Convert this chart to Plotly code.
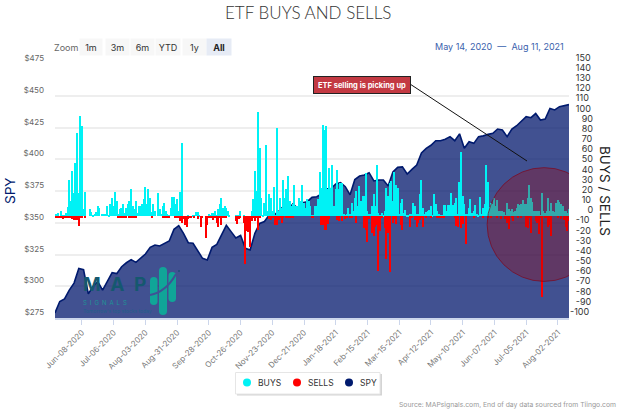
import pandas as pd
import plotly.graph_objects as go

DATES = [d.strftime("%b-%d-%Y") for d in pd.bdate_range("2020-05-14", "2021-08-11")]

TICK_LABELS = ["Jun-08-2020", "Jul-06-2020", "Aug-03-2020", "Aug-31-2020", "Sep-28-2020",
               "Oct-26-2020", "Nov-23-2020", "Dec-21-2020", "Jan-18-2021", "Feb-15-2021",
               "Mar-15-2021", "Apr-12-2021", "May-10-2021", "Jun-07-2021", "Jul-05-2021",
               "Aug-02-2021"]

BUYS = [
    1, 2, 3, 0, 5, 1, 1, 3, 9, 36, 15, 45, 23, 53, 82, 23, 99, 89, 7, 24,
    0, 0, 7, 4, 1, 2, 4, 10, 8, 0, 2, 2, 2, 10, 1, 12, 18, 10, 24, 15,
    2, 7, 8, 12, 3, 8, 12, 15, 27, 10, 7, 15, 3, 10, 10, 12, 17, 29, 12, 27,
    18, 4, 12, 5, 0, 23, 7, 2, 10, 13, 5, 2, 1, 8, 19, 19, 12, 17, 5, 24,
    72, 0, 0, 0, 1, 0, 0, 1, 1, 4, 4, 1, 0, 0, 0, 0, 0, 2, 1, 3,
    3, 5, 1, 7, 12, 18, 8, 10, 8, 5, 1, 0, 0, 0, 1, 1, 1, 5, 0, 1,
    0, 0, 0, 0, 5, 17, 45, 25, 103, 67, 18, 1, 13, 70, 5, 22, 18, 5, 29, 1,
    87, 5, 18, 8, 36, 18, 27, 40, 15, 10, 12, 31, 10, 10, 18, 15, 31, 13, 8, 17,
    15, 10, 1, 1, 10, 10, 17, 44, 28, 90, 85, 89, 27, 48, 28, 51, 10, 27, 46, 27,
    33, 33, 2, 1, 2, 8, 2, 13, 5, 18, 25, 10, 30, 15, 20, 20, 43, 5, 2, 2,
    10, 22, 10, 51, 3, 1, 3, 1, 5, 28, 20, 33, 35, 15, 44, 31, 28, 2, 13, 17,
    3, 6, 1, 1, 2, 2, 13, 10, 2, 2, 22, 36, 8, 2, 4, 5, 6, 10, 1, 22,
    12, 5, 2, 1, 1, 11, 11, 5, 11, 11, 23, 11, 13, 18, 2, 34, 63, 20, 12, 2,
    2, 8, 17, 3, 5, 11, 2, 1, 19, 2, 8, 12, 51, 34, 9, 13, 12, 18, 10, 16,
    5, 5, 5, 4, 1, 13, 7, 5, 7, 4, 5, 8, 12, 11, 12, 16, 12, 12, 18, 31,
    18, 14, 5, 5, 5, 5, 1, 23, 5, 3, 5, 18, 5, 13, 5, 4, 13, 16, 14, 12, 10, 5, 5, 3, 7,
]

SELLS = [
    -1, -2, -2, -2, -2, -3, -2, -2, -2, -2, -2, -3, -4, -4, -4, -9, -2, -1, 0, -1,
    0, 0, 0, 0, 0, 0, 0, 0, 0, 0, 0, 0, 0, 0, 0, 0, 0, 0, 0, 0,
    -1, -1, -1, -2, -1, -1, 0, -1, -1, -1, -1, -1, 0, 0, 0, 0, 0, 0, 0, 0,
    0, -1, 0, 0, 0, 0, 0, 0, -1, -2, -2, -1, -1, 0, 0, 0, -2, -2, -2, -5,
    -6, -3, -8, -10, -3, -2, -1, 0, -1, 0, -3, 0, -10, -1, 0, -21, -8, -1, -1, -1,
    -4, -1, -6, -10, -1, -8, -1, -1, -1, 0, 0, 0, 0, 0, -5, -7, -3, -1, 0, -6,
    -47, -14, -15, -30, -5, -2, -5, -2, -13, -1, 0, 0, 0, 0, 0, -3, -4, -1, -1, -8,
    -8, -4, -1, -6, -1, 0, -1, -1, -1, -1, -1, 0, 0, 0, 0, 0, 0, 0, 0, 0,
    0, 0, -1, -1, 0, 0, 0, 0, -8, -8, -13, -13, -7, -3, 0, 0, 0, 0, -4, -5,
    0, -5, 0, -3, -1, 0, -1, -1, 0, 0, -6, 0, 0, 0, 0, -11, -13, -25, -3, 0,
    -16, -19, -10, -8, -54, -14, -1, 0, -11, -42, -16, -55, 0, -6, -3, -7, 0, 0, -8, -13,
    0, 0, 0, 0, -10, -1, 0, -4, -10, -6, -4, -1, -10, 0, -1, 0, 0, -1, 0, 0,
    0, -1, -1, -1, -1, -1, 0, 0, 0, 0, 0, 0, -2, -9, -10, 0, -11, -7, 0, -27,
    0, 0, 0, 0, -1, 0, 0, 0, 0, 0, -1, 0, 0, -1, 0, -1, 0, 0, 0, -2,
    0, -3, 0, 0, -3, -6, -12, 0, -1, -5, 0, 0, -1, 0, -1, 0, 0, -10, -11, -1,
    -16, 0, 0, -5, -6, -17, -2, -79, 0, -1, -1, -10, -8, -19, 0, 0, 0, -2, 0, -3, 0, -4, -10, -14, -5,
]

# SPY close, read every third weekday
SPY = [
    279, 288, 290, 297, 302.5, 314, 313, 294, 300, 303.6, 297, 303.6, 310.7, 310, 315.4, 318.5,
    321, 318.8, 322, 325.4, 330.6, 332.5, 331.7, 333.8, 335.6, 344.8, 347.7, 341.7, 334.3, 333.8,
    328, 322, 320.7, 330.6, 333, 340, 348, 343, 338, 340, 329.9, 328.5, 341.7, 349.5, 351, 356,
    356, 359, 363, 360.6, 364.8, 361.4, 365.8, 366.6, 370, 370.5, 372.6, 376.8, 377, 380.5, 381.6,
    378.4, 372, 384, 386.8, 387.6, 389.4, 382.9, 383.7, 383.7, 379, 390, 393.6, 394, 388.4, 392,
    395.5, 405, 408.6, 411, 414.6, 414.6, 415.8, 417.8, 414.6, 420, 408.6, 413.8, 412.5, 417.8,
    418.4, 419.6, 420.4, 423.8, 423, 417.8, 423.8, 426.4, 429.6, 433.5, 432.7, 436, 430.9, 431.7,
    440, 438.8, 441.4, 442, 443,
]
SPY_DATES = DATES[::3]

LEFT_TICKS = [275, 300, 325, 350, 375, 400, 425, 450, 475]
RIGHT_TICKS = list(range(-100, 151, 10))

RANGE_BUTTONS = ["1m", "3m", "6m", "YTD", "1y", "All"]
LEGEND_NAMES = ["BUYS", "SELLS", "SPY"]

assert len(DATES) == len(BUYS) == len(SELLS), (len(DATES), len(BUYS), len(SELLS))
assert len(SPY_DATES) == len(SPY), (len(SPY_DATES), len(SPY))

W, H = 624, 413
ML, MR, MT, MB = 55, 55, 64, 95
PW, PH = W - ML - MR, H - MT - MB
CYAN, RED, NAVY = "#00f2f5", "#ff0000", "#001a6e"


def px(x):
    return (x - ML) / PW


def py(y):
    return (H - MB - y) / PH


fig = go.Figure()

fig.add_trace(go.Scatter(
    x=SPY_DATES, y=SPY, name="SPY", mode="lines", showlegend=False,
    line=dict(color=NAVY, width=1.6), fill="tozeroy", fillcolor="rgba(5,26,110,0.76)",
    yaxis="y", hoverinfo="x+y",
))
fig.add_trace(go.Bar(
    x=DATES, y=BUYS, name="BUYS", showlegend=False,
    marker=dict(color=CYAN, line=dict(width=0)), width=0.82, yaxis="y2",
))
fig.add_trace(go.Bar(
    x=DATES, y=SELLS, name="SELLS", showlegend=False,
    marker=dict(color=RED, line=dict(width=0)), width=0.82, yaxis="y2",
))

PAPER = dict(xref="paper", yref="paper")
shapes = [
    # highlighted circle, in data coordinates so the plot area clips it
    dict(type="circle", xref="x", yref="y2", x0=272.4, x1=344.2, y0=-64, y1=48, layer="above",
         fillcolor="rgba(170,0,0,0.3)", line=dict(color="rgba(130,0,20,0.65)", width=1)),
    # callout connector
    dict(type="line", **PAPER, x0=px(410), y0=py(84), x1=px(527), y1=py(161),
         line=dict(color="#111111", width=1)),
    # legend frame with its shadow
    dict(type="rect", **PAPER, x0=px(237), x1=px(382), y0=py(374), y1=py(395.5),
         fillcolor="#d4d4d4", line=dict(width=0), layer="above"),
    dict(type="rect", **PAPER, x0=px(235.5), x1=px(380), y0=py(372.5), y1=py(394),
         fillcolor="white", line=dict(color="#e6e6e6", width=1), layer="above"),
]
for cx, color in zip([247, 297, 349], [CYAN, RED, NAVY]):
    shapes.append(dict(type="circle", **PAPER, x0=px(cx - 4), x1=px(cx + 4), y0=py(386.5), y1=py(378.5),
                       fillcolor=color, line=dict(width=0), layer="above"))


def pill(x0, x1, y0, y1, color):
    r = (x1 - x0) / 2
    path = (f"M {px(x0)} {py(y0 + r)} Q {px(x0)} {py(y0)} {px(x0 + r)} {py(y0)} "
            f"Q {px(x1)} {py(y0)} {px(x1)} {py(y0 + r)} L {px(x1)} {py(y1 - r)} "
            f"Q {px(x1)} {py(y1)} {px(x0 + r)} {py(y1)} Q {px(x0)} {py(y1)} {px(x0)} {py(y1 - r)} Z")
    return dict(type="path", **PAPER, path=path, fillcolor=color, line=dict(width=0), layer="above")


TEAL = "#10a598"
shapes += [pill(150, 157.5, 277, 305, TEAL), pill(159, 167, 267, 315, TEAL), pill(168.5, 176, 272, 302, TEAL)]
shapes.append(dict(
    type="path", **PAPER, layer="above",
    path=f"M {px(150)} {py(295)} Q {px(166)} {py(292)} {px(176)} {py(274)}",
    line=dict(color="#3f5295", width=2), fillcolor="rgba(0,0,0,0)",
))
shapes.append(dict(type="circle", **PAPER, x0=px(178), x1=px(180), y0=py(272), y1=py(270),
                   fillcolor="#1c4c78", line=dict(width=0), layer="above"))


def note(text, x, y, size, color, family="Inter", xanchor="center", weight=None, **kw):
    font = dict(family=family, size=size, color=color)
    if weight:
        font["weight"] = weight
    return dict(text=text, x=px(x), y=py(y), **PAPER, showarrow=False, xanchor=xanchor, yanchor="middle",
                font=font, **kw)


ann = [note("ETF BUYS AND SELLS", 308, 13, 17, "#333333", family="Lato", weight=300)]
ann.append(note("Zoom", 66, 47.5, 9, "#666666"))
btn_x = [91, 117, 142, 168, 194, 219]
btn_w = [20, 21, 21, 22, 21, 22]
for label, cx, bw in zip(RANGE_BUTTONS, btn_x, btn_w):
    active = label == "All"
    ann.append(note(f"<b>{label}</b>" if active else label, cx, 47.5, 9, "#222222" if active else "#333333",
                    width=bw, height=14, bgcolor="#e6ebf5" if active else "#f7f7f7"))
ann.append(note("May 14, 2020  \u2014  Aug 11, 2021", 566, 47, 9, "#3a62ad", xanchor="right"))
ann.append(note("<b>ETF selling is picking up</b>", 362, 85, 7.5, "#ffffff", width=94, height=14,
                bgcolor="rgba(190,40,50,0.92)", bordercolor="#222222", borderwidth=1))
ann.append(note("SPY", 10, 191, 13.5, NAVY, textangle=-90))
ann.append(note("BUYS / SELLS", 605, 191, 13.5, "#222222", textangle=90))
ann.append(note("Source: MAPsignals.com, End of day data sourced from Tiingo.com", 618, 404, 6.8, "#999999",
                xanchor="right"))
ann.append(note("<b>M\u2002A\u2002P</b>", 81, 284.5, 19, "#15586f", xanchor="left"))
ann.append(note("S\u2002I\u2002G\u2002N\u2002A\u2002L\u2002S", 81, 302, 6, "#1d9496", xanchor="left"))
ann.append(note("Tomorrow's top stocks today", 81, 311, 5, "#20608a", xanchor="left"))
for name, lx in zip(LEGEND_NAMES, [256, 306, 358]):
    ann.append(note(name, lx, 382.5, 8.5, "#333333", xanchor="left"))

fig.update_layout(
    width=W, height=H, margin=dict(l=ML, r=MR, t=MT, b=MB, pad=0),
    paper_bgcolor="white", plot_bgcolor="white", barmode="overlay", bargap=0,
    font=dict(family="Inter", color="#666666"), hovermode="x", showlegend=False,
    shapes=shapes, annotations=ann,
    xaxis=dict(type="category", categoryorder="array", categoryarray=DATES,
               range=[0, len(DATES) - 1], tickmode="array", tickvals=TICK_LABELS, ticktext=TICK_LABELS,
               tickangle=-45, ticks="outside", ticklen=5, tickcolor="#ccd6eb", tickwidth=1,
               showline=True, linecolor="#ccd6eb", linewidth=1.5, showgrid=False,
               tickfont=dict(family="Inter", size=8, color="#777777"), automargin=False),
    yaxis=dict(range=[275, 475], tickmode="array", tickvals=LEFT_TICKS, ticktext=[f"${v}" for v in LEFT_TICKS],
               showgrid=True, gridcolor="#eeeeee", gridwidth=1.5, zeroline=False, showline=False,
               tickfont=dict(family="Inter", size=8, color="#666666"), ticks="", automargin=False,
               ticklabelposition="outside top", ticklabelstandoff=10),
    yaxis2=dict(range=[-100, 150], overlaying="y", side="right",
                tickmode="array", tickvals=RIGHT_TICKS, ticktext=[str(v).rjust(4, "\u2007") for v in RIGHT_TICKS],
                showgrid=False, zeroline=False, showline=False,
                tickfont=dict(family="Inter", size=9, color="#333333"), ticks="", automargin=False,
                ticklabelposition="outside top"),
)

fig.write_html("out.html", config={"displayModeBar": False}, post_script="document.body.style.margin='0';")
